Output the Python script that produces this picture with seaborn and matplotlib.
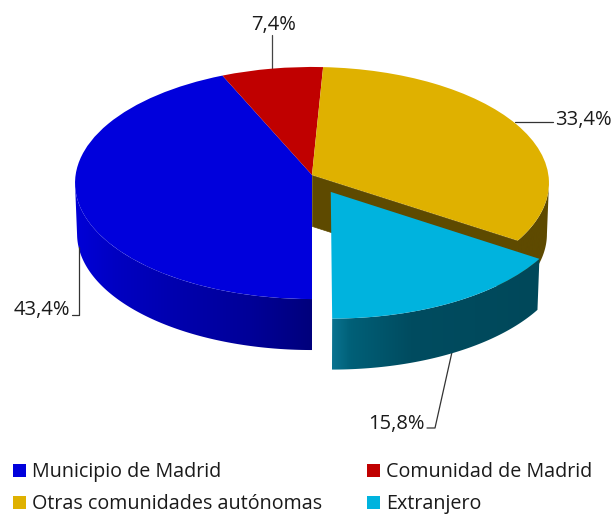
import numpy as np
import matplotlib
matplotlib.use("Agg")
import matplotlib.pyplot as plt
import matplotlib.transforms as mtransforms
from matplotlib.collections import PolyCollection
from matplotlib.colors import to_rgb
from matplotlib.patches import Polygon
import seaborn as sns

categories = ["Municipio de Madrid", "Comunidad de Madrid", "Otras comunidades autónomas", "Extranjero"]
values = [43.4, 7.4, 33.4, 15.8]
explode = [0, 0, 0, 0.165]

colors = sns.color_palette(["#0000DC", "#C00000", "#DFB100", "#00B3DE"])

sns.set_theme(style="white")
plt.rcParams["font.family"] = ["Open Sans", "DejaVu Sans"]

DEPTH = 51
CX, CY = 312, 175
RADIUS = 236.4
TILT_A, TILT_C = -103.4, 0.069


class PieProjection(mtransforms.Transform):
    # circle coords -> pixel coords, with a bit of perspective like a 3D pie
    input_dims = 2
    output_dims = 2

    def __init__(self, drop=0):
        super().__init__()
        self.drop = drop

    def transform_non_affine(self, xy):
        xy = np.asarray(xy, dtype=float)
        u, v = xy[:, 0], xy[:, 1]
        w = 1 + TILT_C * v
        r = RADIUS - 0.04 * self.drop
        return np.column_stack([CX + r * u / w, (TILT_A * v + CY) / w + self.drop])


def side_colors(xs, stops_x, stops_rgb):
    stops = np.array([to_rgb(c) for c in stops_rgb])
    return np.column_stack([np.interp(xs, stops_x, stops[:, i]) for i in range(3)])


fig = plt.figure(figsize=(6.13, 5.15), dpi=100)
ax = fig.add_axes([0, 0, 1, 1])

wedges, _ = ax.pie(values, colors=colors, explode=explode, startangle=270, counterclock=False,
                   radius=1, wedgeprops={"linewidth": 0, "zorder": 5})

top = PieProjection(0)
bottom = PieProjection(DEPTH)
for w in wedges:
    w.set_transform(top + ax.transData)

# side walls: horizontal gradient clipped to the swept rim, front part only
shades = {
    0: ([78, 115, 170, 250, 312], ["#0000D6", "#0000C2", "#0000B0", "#000098", "#00007C"]),
    2: ([0, 613], ["#5E4A00", "#5E4A00"]),
    3: ([332, 350, 410, 540], ["#0A7390", "#006078", "#004C60", "#00485A"]),
}
for i, stops in shades.items():
    w = wedges[i]
    t = np.radians(np.linspace(w.theta1, w.theta2, 200))
    # widest point of the projected rim, the closing edge is the tangent there
    t = t[np.sin(t) < -TILT_C]
    c = np.array(w.center)
    pts = np.column_stack([c[0] + np.cos(t), c[1] + np.sin(t)])
    ptop = top.transform(pts)
    pbot = bottom.transform(pts)
    x0, x1 = min(ptop[:, 0].min(), pbot[:, 0].min()), max(ptop[:, 0].max(), pbot[:, 0].max())
    grad = side_colors(np.linspace(x0, x1, 300), *stops)[np.newaxis, :, :]
    img = ax.imshow(grad, extent=[x0, x1, 515, 0], aspect="auto", interpolation="bilinear", zorder=2 + i * 0.1)
    img.set_clip_path(Polygon(np.vstack([ptop, pbot[::-1]]), closed=True, transform=ax.transData))

# cut face of the gold slice, seen through the gap
t_end = np.radians(wedges[2].theta1)
rim = np.array([[0, 0], [np.cos(t_end), np.sin(t_end)]])
a, b = top.transform(rim)
c, d = bottom.transform(rim)
ax.add_collection(PolyCollection([[a, b, d, c]], facecolors="#5E4A00", edgecolors="#5E4A00", linewidths=0.5, zorder=2.25))

ax.set_aspect("auto")
ax.set_xlim(0, 613)
ax.set_ylim(515, 0)
ax.axis("off")

# labels with leader lines
text_color = "#1a1a1a"
labels = [f"{v:.1f}%".replace(".", ",") for v in values]
ax.text(70, 310, labels[0], ha="right", va="center", fontsize=14.5, color=text_color)
ax.plot([72, 79, 79], [315, 315, 247], color="#333333", lw=0.9)
ax.text(274, 25, labels[1], ha="center", va="center", fontsize=14.5, color=text_color)
ax.plot([272, 272], [35, 69], color="#444444", lw=0.9)
ax.text(555, 120, labels[2], ha="left", va="center", fontsize=14.5, color=text_color)
ax.plot([515, 553], [122, 122], color="#333333", lw=0.9)
ax.text(425, 424, labels[3], ha="right", va="center", fontsize=14.5, color=text_color)
ax.plot([427, 435, 452], [428, 428, 352], color="#333333", lw=0.9)

# legend is filled by columns, so reorder
order = [0, 2, 1, 3]
leg = ax.legend([wedges[i] for i in order], [categories[i] for i in order], ncol=2, frameon=False,
                loc="lower left", bbox_to_anchor=(5 / 613, -7 / 515), borderaxespad=0.2, borderpad=0.2,
                fontsize=14.2, handlelength=0.66, handleheight=0.66, handletextpad=0.3,
                columnspacing=2.3, labelspacing=0.6, labelcolor=text_color)

fig.savefig("out.png", dpi=100)
